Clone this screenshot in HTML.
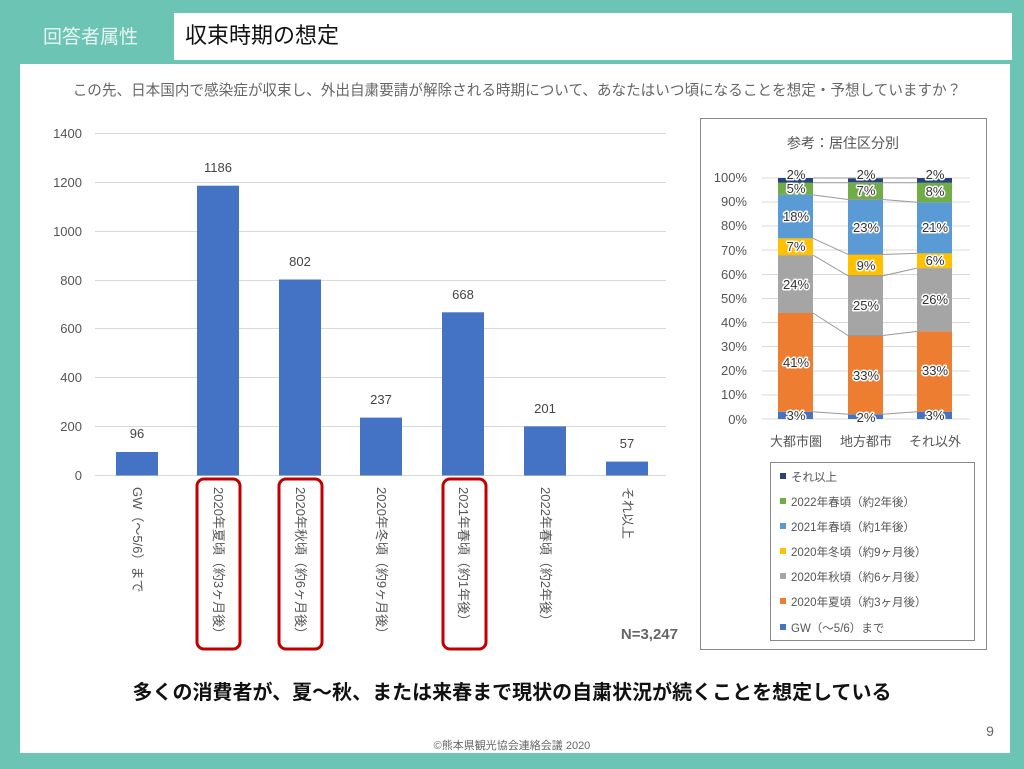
<!DOCTYPE html>
<html><head><meta charset="utf-8"><style>
body{margin:0;width:1024px;height:769px;background:#6cc4b4;overflow:hidden;font-family:"Liberation Sans","Noto Sans CJK JP",sans-serif}
</style></head><body>
<svg width="1024" height="769" xmlns="http://www.w3.org/2000/svg" style="position:absolute;left:0;top:0;font-family:'Liberation Sans','Noto Sans CJK JP',sans-serif">
<rect x="0" y="0" width="1024" height="769" fill="#6cc4b4"/>
<text x="43" y="43" font-size="19" fill="#e8f6f3">回答者属性</text>
<rect x="174" y="13" width="838" height="47" fill="#fff"/>
<text x="185" y="43" font-size="22" fill="#111">収束時期の想定</text>
<rect x="20" y="64" width="990" height="689" fill="#fff"/>
<text x="517" y="95" font-size="14.6" fill="#666" text-anchor="middle">この先、日本国内で感染症が収束し、外出自粛要請が解除される時期について、あなたはいつ頃になることを想定・予想していますか？</text>
<g font-size="13" fill="#555" text-anchor="end">
<text x="82" y="138">1400</text><text x="82" y="187">1200</text><text x="82" y="236">1000</text><text x="82" y="285">800</text><text x="82" y="333">600</text><text x="82" y="382">400</text><text x="82" y="431">200</text><text x="82" y="480">0</text>
</g>
<g stroke="#d9d9d9" stroke-width="1">
<line x1="95" x2="666" y1="133.5" y2="133.5"/><line x1="95" x2="666" y1="182.5" y2="182.5"/><line x1="95" x2="666" y1="231.5" y2="231.5"/><line x1="95" x2="666" y1="280.5" y2="280.5"/><line x1="95" x2="666" y1="328.5" y2="328.5"/><line x1="95" x2="666" y1="377.5" y2="377.5"/><line x1="95" x2="666" y1="426.5" y2="426.5"/><line x1="95" x2="666" y1="475.5" y2="475.5"/>
</g>
<g fill="#4472c4">
<rect x="116" y="452" width="42" height="23.5"/>
<rect x="197" y="185.7" width="42" height="289.8"/>
<rect x="279" y="279.5" width="42" height="196"/>
<rect x="360" y="417.6" width="42" height="57.9"/>
<rect x="442" y="312.3" width="42" height="163.2"/>
<rect x="524" y="426.4" width="42" height="49.1"/>
<rect x="606" y="461.6" width="42" height="13.9"/>
</g>
<g font-size="13" fill="#444" text-anchor="middle">
<text x="137" y="438">96</text><text x="218" y="172">1186</text><text x="300" y="266">802</text><text x="381" y="404">237</text><text x="463" y="299">668</text><text x="545" y="413">201</text><text x="627" y="448">57</text>
</g>
<g font-size="13" fill="#555">
<text transform="translate(133,487) rotate(90)">GW（～5/6）まで</text>
<text transform="translate(214,487) rotate(90)">2020年夏頃（約3ヶ月後）</text>
<text transform="translate(296,487) rotate(90)">2020年秋頃（約6ヶ月後）</text>
<text transform="translate(377,487) rotate(90)">2020年冬頃（約9ヶ月後）</text>
<text transform="translate(459,487) rotate(90)">2021年春頃（約1年後）</text>
<text transform="translate(541,487) rotate(90)">2022年春頃（約2年後）</text>
<text transform="translate(623,487) rotate(90)">それ以上</text>
</g>
<g fill="none" stroke="#c00000" stroke-width="3">
<rect x="197" y="479" width="43" height="170" rx="7"/>
<rect x="279" y="479" width="43" height="170" rx="7"/>
<rect x="443" y="479" width="43" height="170" rx="7"/>
</g>
<text x="678" y="639" font-size="15" font-weight="bold" fill="#666" text-anchor="end">N=3,247</text>

<rect x="700.5" y="118.5" width="286" height="531" fill="#fff" stroke="#888"/>
<text x="843" y="148" font-size="14" fill="#555" text-anchor="middle">参考：居住区分別</text>
<g font-size="13" fill="#555" text-anchor="end">
<text x="747" y="182">100%</text><text x="747" y="206">90%</text><text x="747" y="230">80%</text><text x="747" y="255">70%</text><text x="747" y="279">60%</text><text x="747" y="303">50%</text><text x="747" y="327">40%</text><text x="747" y="351">30%</text><text x="747" y="375">20%</text><text x="747" y="399">10%</text><text x="747" y="424">0%</text>
</g>
<g stroke="#d9d9d9">
<line x1="762" x2="970" y1="178" y2="178"/><line x1="762" x2="970" y1="202" y2="202"/><line x1="762" x2="970" y1="226" y2="226"/><line x1="762" x2="970" y1="250" y2="250"/><line x1="762" x2="970" y1="274.5" y2="274.5"/><line x1="762" x2="970" y1="298.5" y2="298.5"/><line x1="762" x2="970" y1="322.5" y2="322.5"/><line x1="762" x2="970" y1="346.5" y2="346.5"/><line x1="762" x2="970" y1="371" y2="371"/><line x1="762" x2="970" y1="395" y2="395"/><line x1="762" x2="970" y1="419" y2="419"/>
</g>
<rect x="778" y="411.8" width="35" height="7.2" fill="#4472c4"/>
<rect x="778" y="313" width="35" height="98.8" fill="#ed7d31"/>
<rect x="778" y="255.1" width="35" height="57.9" fill="#a5a5a5"/>
<rect x="778" y="238.3" width="35" height="16.8" fill="#ffc000"/>
<rect x="778" y="194.9" width="35" height="43.4" fill="#5b9bd5"/>
<rect x="778" y="182.8" width="35" height="12.1" fill="#70ad47"/>
<rect x="778" y="178" width="35" height="4.8" fill="#264478"/>
<rect x="848" y="414.2" width="35" height="4.8" fill="#4472c4"/>
<rect x="848" y="335.5" width="35" height="78.7" fill="#ed7d31"/>
<rect x="848" y="275.8" width="35" height="59.7" fill="#a5a5a5"/>
<rect x="848" y="254.4" width="35" height="21.4" fill="#ffc000"/>
<rect x="848" y="199.5" width="35" height="54.9" fill="#5b9bd5"/>
<rect x="848" y="182.8" width="35" height="16.7" fill="#70ad47"/>
<rect x="848" y="178" width="35" height="4.8" fill="#264478"/>
<rect x="917" y="411.7" width="35" height="7.3" fill="#4472c4"/>
<rect x="917" y="331.4" width="35" height="80.3" fill="#ed7d31"/>
<rect x="917" y="268.1" width="35" height="63.3" fill="#a5a5a5"/>
<rect x="917" y="253.4" width="35" height="14.7" fill="#ffc000"/>
<rect x="917" y="202.3" width="35" height="51.1" fill="#5b9bd5"/>
<rect x="917" y="182.8" width="35" height="19.5" fill="#70ad47"/>
<rect x="917" y="178" width="35" height="4.8" fill="#264478"/>
<g stroke="#999" stroke-width="1">
<polyline fill="none" points="813,411.8 848,414.2 883,414.2 917,411.7"/>
<polyline fill="none" points="813,313 848,335.5 883,335.5 917,331.4"/>
<polyline fill="none" points="813,255.1 848,275.8 883,275.8 917,268.1"/>
<polyline fill="none" points="813,238.3 848,254.4 883,254.4 917,253.4"/>
<polyline fill="none" points="813,194.9 848,199.5 883,199.5 917,202.3"/>
<polyline fill="none" points="813,182.8 848,182.8 883,182.8 917,182.8"/>
<polyline fill="none" points="813,178 848,178 883,178 917,178"/>
</g>
<g font-size="13" fill="#333" text-anchor="middle" stroke="#fff" stroke-width="3" paint-order="stroke" stroke-linejoin="round">
<text x="796" y="420">3%</text><text x="796" y="367">41%</text><text x="796" y="289">24%</text><text x="796" y="251">7%</text><text x="796" y="221">18%</text><text x="796" y="193">5%</text><text x="796" y="179">2%</text>
<text x="866" y="422">2%</text><text x="866" y="380">33%</text><text x="866" y="310">25%</text><text x="866" y="270">9%</text><text x="866" y="232">23%</text><text x="866" y="195">7%</text><text x="866" y="179">2%</text>
<text x="935" y="420">3%</text><text x="935" y="375">33%</text><text x="935" y="304">26%</text><text x="935" y="265">6%</text><text x="935" y="232">21%</text><text x="935" y="196">8%</text><text x="935" y="179">2%</text>
</g>
<g font-size="13" fill="#555" text-anchor="middle">
<text x="796" y="446">大都市圏</text><text x="866" y="446">地方都市</text><text x="935" y="446">それ以外</text>
</g>
<rect x="770.5" y="462.5" width="204" height="178" fill="#fff" stroke="#888"/>
<g font-size="11.5" fill="#555">
<rect x="780" y="473" width="6" height="6" fill="#264478"/><text x="791" y="481">それ以上</text>
<rect x="780" y="498" width="6" height="6" fill="#70ad47"/><text x="791" y="506">2022年春頃（約2年後）</text>
<rect x="780" y="523" width="6" height="6" fill="#5b9bd5"/><text x="791" y="531">2021年春頃（約1年後）</text>
<rect x="780" y="548" width="6" height="6" fill="#ffc000"/><text x="791" y="556">2020年冬頃（約9ヶ月後）</text>
<rect x="780" y="573" width="6" height="6" fill="#a5a5a5"/><text x="791" y="581">2020年秋頃（約6ヶ月後）</text>
<rect x="780" y="598" width="6" height="6" fill="#ed7d31"/><text x="791" y="606">2020年夏頃（約3ヶ月後）</text>
<rect x="780" y="624" width="6" height="6" fill="#4472c4"/><text x="791" y="632">GW（～5/6）まで</text>
</g>
<text x="512" y="699" font-size="20" font-weight="bold" fill="#111" text-anchor="middle">多くの消費者が、夏～秋、または来春まで現状の自粛状況が続くことを想定している</text>
<text x="990" y="736" font-size="14" fill="#666" text-anchor="middle">9</text>
<text x="512" y="749" font-size="11" fill="#666" text-anchor="middle">©熊本県観光協会連絡会議 2020</text>
</svg>
</body></html>
